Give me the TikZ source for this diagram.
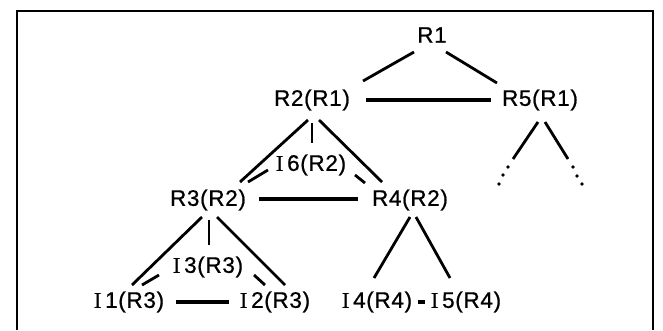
\documentclass[tikz,border=0pt]{standalone}
\usepackage{fontspec}
\setmainfont{Liberation Sans}[LetterSpace=3, FakeBold=0.8]
\newfontfamily\serifI{Liberation Serif}[FakeBold=0.8]
\usetikzlibrary{calc}

% serif capital I as printed in the interval labels
\newcommand{\Iv}{{\serifI I}\,}

\tikzset{
  lbl/.style={inner sep=0pt, font=\fontsize{22.5}{22.5}\selectfont},
  edge/.style={line width=2.8pt},
  link/.style={line width=3.4pt},
  dot/.style={fill, circle, inner sep=0pt, minimum size=3.6pt},
}

\begin{document}
\begin{tikzpicture}[x=1pt, y=-1pt]
  \useasboundingbox (0,0) rectangle (663,330);
  \draw[line width=2.2pt] (17,330) -- (17,11) -- (653,11) -- (653,330);

  % nodes
  \node[lbl] (R1) at (432,35) {R1};
  \node[lbl] (R2) at (312,100) {R2(R1)};
  \node[lbl] (R5) at (540,100) {R5(R1)};
  \node[lbl] (I6) at (311,165) {\Iv6(R2)};
  \node[lbl] (R3) at (208,200) {R3(R2)};
  \node[lbl] (R4) at (410,200) {R4(R2)};
  \node[lbl] (I3) at (208,267) {\Iv3(R3)};
  \node[lbl] (I1) at (129,302) {\Iv1(R3)};
  \node[lbl] (I2) at (275,302) {\Iv2(R3)};
  \node[lbl] (I4) at (377,302) {\Iv4(R4)};
  \node[lbl] (I5) at (466,302) {\Iv5(R4)};

  % tree edges
  \draw[edge] ($(R1)+(-18,17)$) -- ($(R2)+(51,-19)$);
  \draw[edge] ($(R1)+(14,17)$) -- ($(R5)+(-43,-17)$);
  \draw[edge] ($(R2)+(-4,20)$) -- ($(R3)+(32,-18)$);
  \draw[edge] ($(R2)+(7,20)$) -- ($(R4)+(-28,-18)$);
  \draw[edge] ($(R3)+(-6,17)$) -- ($(I1)+(3,-17)$);
  \draw[edge] ($(R3)+(9,17)$) -- ($(I2)+(10,-17)$);
  \draw[edge] ($(R4)+(0,17)$) -- ($(I4)+(-3,-24)$);
  \draw[edge] ($(R4)+(6,17)$) -- ($(I5)+(-16,-24)$);

  % interval nodes hanging below
  \draw[line width=1.6pt] ($(R2)+(0,23)$) -- ($(I6)+(1,-22)$);
  \draw[edge] ($(I6)+(-43,5)$) -- ($(R3)+(40,-18)$);
  \draw[edge] ($(I6)+(44,10)$) -- ($(R4)+(-45,-17)$);
  \draw[line width=1.6pt] ($(R3)+(1,20)$) -- ($(I3)+(1,-22)$);
  \draw[edge] ($(I3)+(-49,8)$) -- ($(I1)+(13,-17)$);
  \draw[edge] ($(I3)+(46,8)$) -- ($(I2)+(-10,-17)$);

  % sibling links
  \draw[link] ($(R2)+(54,0)$) -- ($(R5)+(-49,0)$);
  \draw[link] ($(R3)+(51,-1)$) -- ($(R4)+(-52,-1)$);
  \draw[link] ($(I1)+(47,0)$) -- ($(I2)+(-46,0)$);
  \draw[link] ($(I4)+(41,0)$) -- ($(I5)+(-41,0)$);

  % subtrees of R5, left open
  \draw[edge] ($(R5)+(-2,22)$) -- ($(R5)+(-27,59)$);
  \draw[edge] ($(R5)+(5,22)$) -- ($(R5)+(28,59)$);
  \foreach \dx/\dy in {-32/67, -37/75, -41/84, 33/67, 37/76, 42/84}
    \node[dot] at ($(R5)+(\dx,\dy)$) {};
\end{tikzpicture}
\end{document}
